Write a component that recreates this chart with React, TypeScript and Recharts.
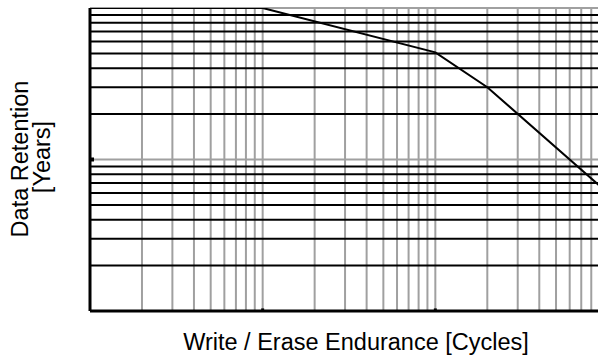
import React from 'react'
import { LineChart, Line, XAxis, YAxis, ReferenceLine } from 'recharts'

// endurance curve (log-log)
const CYCLES = [1e3, 1e4, 1e5, 2e5, 1e6]
const YEARS = [100, 100, 51, 30, 6]

// grid positions
const X_MINOR = [
  2e3, 3e3, 4e3, 5e3, 6e3, 7e3, 8e3, 9e3,
  2e4, 3e4, 4e4, 5e4, 6e4, 7e4, 8e4, 9e4,
  2e5, 3e5, 4e5, 5e5, 6e5, 7e5, 8e5, 9e5,
]
const X_MAJOR = [1e4, 1e5]
const Y_MINOR = [2, 3, 4, 5, 6, 7, 8, 9, 20, 30, 40, 50, 60, 70, 80, 90]
const Y_MAJOR = [10, 100]

const X_TITLE = 'Write / Erase Endurance [Cycles]'
const Y_TITLE = ['Data Retention', '[Years]']

const data = CYCLES.map((c, i) => ({ cycles: c, years: YEARS[i] }))

const GRAY = '#a0a0a0'
const FONT = '"Liberation Sans", Arial, sans-serif'

const App: React.FC = () => {
  return (
    <div style={{ position: 'fixed', left: 0, top: 0, width: 598, height: 356, overflow: 'hidden', background: '#fff' }}>
      <LineChart width={620} height={356} data={data} margin={{ top: 8, right: 12, bottom: 45, left: 90 }}>
        <XAxis dataKey="cycles" type="number" scale="log" domain={[1e3, 1e6]} hide allowDataOverflow />
        <YAxis type="number" scale="log" domain={[1, 100]} hide allowDataOverflow />

        {X_MINOR.map(v => (
          <ReferenceLine key={'xm' + v} x={v} stroke={GRAY} strokeWidth={2} />
        ))}
        {X_MAJOR.map(v => (
          <ReferenceLine key={'xM' + v} x={v} stroke={GRAY} strokeWidth={2} />
        ))}
        {Y_MINOR.map(v => (
          <ReferenceLine key={'ym' + v} y={v} stroke="#000" strokeWidth={2} />
        ))}
        {Y_MAJOR.map(v => (
          <ReferenceLine key={'yM' + v} y={v} stroke={GRAY} strokeWidth={2} />
        ))}

        {/* small black ticks on the decades */}
        {X_MAJOR.map(v => (
          <ReferenceLine key={'xt' + v} segment={[{ x: v, y: 1 }, { x: v, y: 1.04 }]} stroke="#000" strokeWidth={3} />
        ))}
        <ReferenceLine segment={[{ x: 1e3, y: 10 }, { x: 1.055e3, y: 10 }]} stroke="#000" strokeWidth={4} />

        {/* axes */}
        <ReferenceLine x={1e3} stroke="#000" strokeWidth={3} />
        <ReferenceLine y={1} stroke="#000" strokeWidth={3} />

        <Line
          dataKey="years"
          type="linear"
          stroke="#000"
          strokeWidth={2}
          dot={false}
          isAnimationActive={false}
        />
      </LineChart>

      <svg width={598} height={356} style={{ position: 'absolute', left: 0, top: 0, pointerEvents: 'none' }}>
        <text x={356} y={350} textAnchor="middle" fontSize={23.5} fontFamily={FONT} fill="#000">
          {X_TITLE}
        </text>
        <text transform="translate(28,159) rotate(-90)" textAnchor="middle" fontSize={23.5} fontFamily={FONT} fill="#000">
          {Y_TITLE[0]}
        </text>
        <text transform="translate(50,157) rotate(-90)" textAnchor="middle" fontSize={23.5} fontFamily={FONT} fill="#000">
          {Y_TITLE[1]}
        </text>
      </svg>
    </div>
  )
}

export default App
